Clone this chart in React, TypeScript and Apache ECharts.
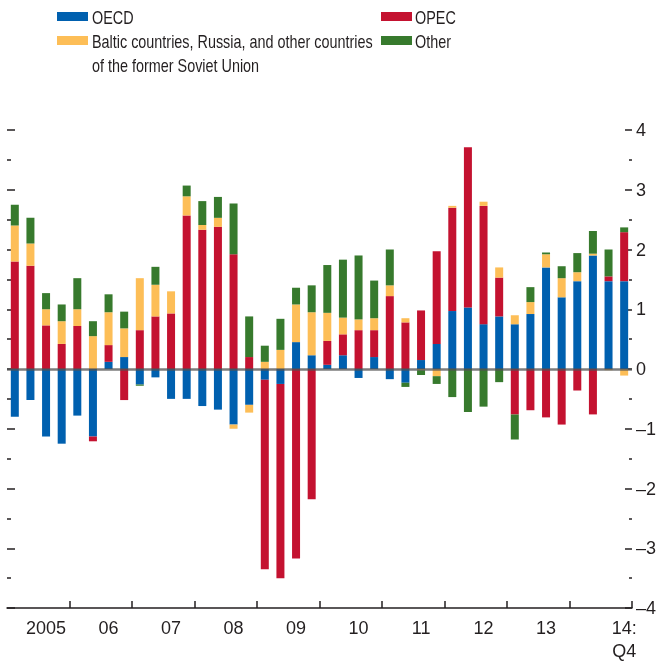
import React, { useEffect, useRef } from "react";
import * as echarts from "echarts";

const years = ["2005", "2006", "2007", "2008", "2009", "2010", "2011", "2012", "2013", "2014"];
const quarters = years.flatMap((y) => ["Q1", "Q2", "Q3", "Q4"].map((q) => `${y}${q}`));
const yearLabels = ["2005", "06", "07", "08", "09", "10", "11", "12", "13"];
const lastLabel = "14:\nQ4";

const oecd = [
  -0.8, -0.52, -1.13, -1.25, -0.78, -1.13, 0.12, 0.2, -0.26, -0.14,
  -0.5, -0.5, -0.62, -0.68, -0.93, -0.6, -0.18, -0.25, 0.45, 0.23,
  0.07, 0.23, -0.15, 0.2, -0.17, -0.23, 0.15, 0.42, 0.97, 1.03,
  0.75, 0.88, 0.75, 0.92, 1.7, 1.2, 1.47, 1.9, 1.47, 1.47,
];
const opec = [
  1.8, 1.73, 0.73, 0.42, 0.72, -0.08, 0.28, -0.52, 0.65, 0.88,
  0.93, 2.57, 2.33, 2.38, 1.92, 0.2, -3.17, -3.25, -3.17, -2.18,
  0.4, 0.35, 0.65, 0.45, 1.22, 0.78, 0.83, 1.55, 1.73, 2.68,
  1.98, 0.65, -0.76, -0.69, -0.81, -0.93, -0.36, -0.76, 0.08, 0.82,
];
const baltic = [
  0.6, 0.37, 0.27, 0.38, 0.28, 0.55, 0.55, 0.48, 0.87, 0.53,
  0.37, 0.32, 0.08, 0.15, -0.07, -0.13, 0.12, 0.32, 0.63, 0.72,
  0.47, 0.28, 0.18, 0.2, 0.18, 0.07, -0.02, -0.12, 0.03, 0,
  0.07, 0.17, 0.15, 0.2, 0.22, 0.32, 0.15, 0.03, -0.02, -0.11,
];
const other = [
  0.35, 0.43, 0.27, 0.28, 0.52, 0.25, 0.3, 0.28, -0.02, 0.3,
  0, 0.18, 0.4, 0.35, 0.85, 0.68, 0.27, 0.52, 0.28, 0.45,
  0.8, 0.97, 1.07, 0.63, 0.6, -0.07, -0.08, -0.13, -0.47, -0.72,
  -0.63, -0.22, -0.42, 0.25, 0.03, 0.2, 0.32, 0.38, 0.45, 0.08,
];

const seriesNames = [
  "OECD",
  "OPEC",
  "Baltic countries, Russia, and other countries of the former Soviet Union",
  "Other",
];
const colors = ["#0060AF", "#C41230", "#FDBE57", "#377A2D"];

const TEXT = "#231f20";
const SANS = "'Liberation Sans', Arial, sans-serif";

export default function App() {
  const ref = useRef<HTMLDivElement>(null);
  useEffect(() => {
    if (!ref.current) return;
    const chart = echarts.init(ref.current, null, { renderer: "svg" });
    const values = [oecd, opec, baltic, other];
    const legendText = (text: string, x: number, y: number) => ({
      type: "text",
      x,
      y,
      scaleX: 0.8,
      style: { text, fill: TEXT, font: `18px ${SANS}`, verticalAlign: "middle", align: "left" },
    });
    const swatch = (color: string, x: number, y: number) => ({
      type: "rect",
      shape: { x, y, width: 31, height: 9 },
      style: { fill: color },
    });
    chart.setOption({
      animation: false,
      grid: { left: 7, right: 24, top: 130, bottom: 52, containLabel: false },
      graphic: [
        swatch(colors[0], 57, 12),
        legendText("OECD", 92, 17),
        swatch(colors[1], 381, 12),
        legendText("OPEC", 415, 17),
        swatch(colors[2], 57, 36),
        legendText("Baltic countries, Russia, and other countries", 92, 41),
        legendText("of the former Soviet Union", 92, 65),
        swatch(colors[3], 381, 36),
        legendText("Other", 415, 41),
      ],
      xAxis: {
        type: "category",
        data: quarters,
        boundaryGap: true,
        axisLine: { show: true, onZero: false, lineStyle: { color: TEXT, width: 1.5 } },
        axisTick: {
          show: true,
          inside: true,
          length: 7,
          interval: (i: number) => i % 4 === 0 && i > 0,
          lineStyle: { color: TEXT, width: 1.5 },
        },
        axisLabel: {
          interval: (i: number) => i % 4 === 2 || i === 39,
          formatter: (_v: string, i: number) => (i === 39 ? lastLabel : yearLabels[Math.floor(i / 4)]),
          color: TEXT,
          fontSize: 18,
          fontFamily: SANS,
          lineHeight: 23,
          margin: 8,
        },
        splitLine: { show: false },
      },
      yAxis: [
        {
          type: "value",
          min: -4,
          max: 4,
          interval: 1,
          position: "left",
          axisLine: { show: false },
          axisLabel: { show: false },
          axisTick: { show: true, inside: true, length: 8, lineStyle: { color: TEXT, width: 1.5 } },
          minorTick: { show: true, splitNumber: 2, length: 4, lineStyle: { color: TEXT, width: 1.5 } },
          splitLine: { show: false },
        },
        {
          type: "value",
          min: -4,
          max: 4,
          interval: 1,
          position: "right",
          axisLine: { show: false },
          axisLabel: {
            color: TEXT,
            fontSize: 18,
            fontFamily: SANS,
            margin: 4,
            formatter: (v: number) => (v < 0 ? "\u2013" + Math.abs(v) : String(v)),
          },
          axisTick: { show: true, inside: true, length: 7, lineStyle: { color: TEXT, width: 1.5 } },
          minorTick: { show: true, splitNumber: 2, length: 3, lineStyle: { color: TEXT, width: 1.5 } },
          splitLine: { show: false },
        },
      ],
      series: values.map((data, k) => ({
        name: seriesNames[k],
        type: "bar",
        stack: "total",
        data,
        barWidth: 8,
        yAxisIndex: 0,
        itemStyle: { color: colors[k] },
        ...(k === 3
          ? {
              markLine: {
                silent: true,
                symbol: ["none", "none"],
                label: { show: false },
                lineStyle: { color: "rgba(80,80,80,0.75)", width: 2.5, type: "solid" },
                data: [{ yAxis: 0 }],
              },
            }
          : {}),
      })),
    });
    return () => chart.dispose();
  }, []);
  return <div ref={ref} style={{ position: "fixed", left: 0, top: 0, width: 659, height: 662 }} />;
}
